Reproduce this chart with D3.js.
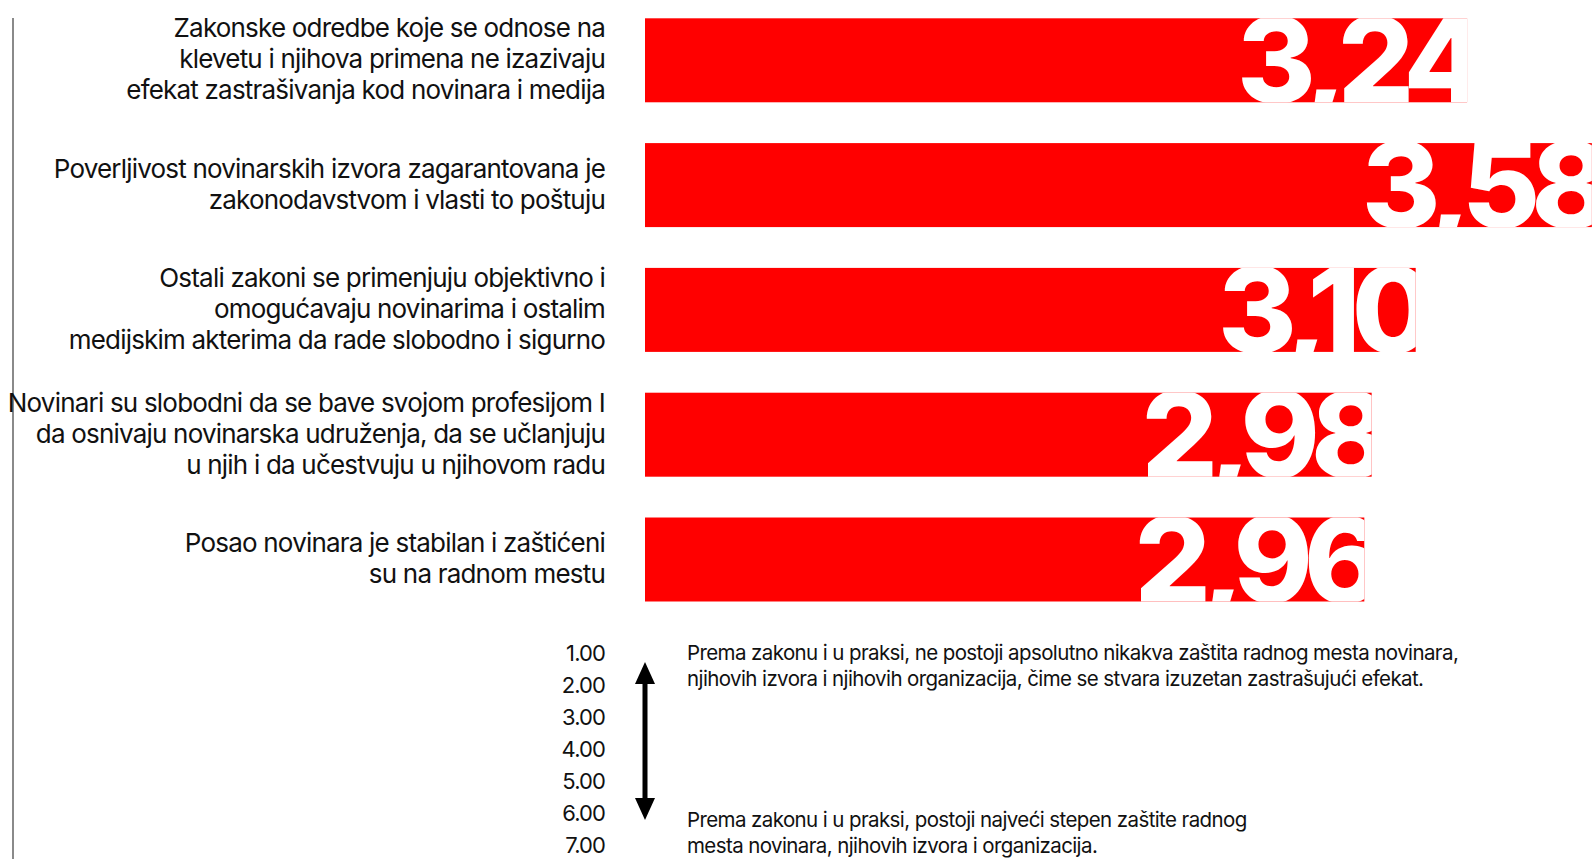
<!DOCTYPE html>
<html>
<head>
<meta charset="utf-8">
<script src="https://cdn.jsdelivr.net/npm/d3@7"></script>
<style>
  body { margin: 0; background: #fff; }
</style>
</head>
<body>
<div id="canvas"></div>
<script>
var w = 1594;
var h = 859;

// data
var categories = [
  ["Zakonske odredbe koje se odnose na", "klevetu i njihova primena ne izazivaju", "efekat zastrašivanja kod novinara i medija"],
  ["Poverljivost novinarskih izvora zagarantovana je", "zakonodavstvom i vlasti to poštuju"],
  ["Ostali zakoni se primenjuju objektivno i", "omogućavaju novinarima i ostalim", "medijskim akterima da rade slobodno i sigurno"],
  ["Novinari su slobodni da se bave svojom profesijom I", "da osnivaju novinarska udruženja, da se učlanjuju", "u njih i da učestvuju u njihovom radu"],
  ["Posao novinara je stabilan i zaštićeni", "su na radnom mestu"]
];
var values = [3.24, 3.58, 3.10, 2.98, 2.96];
var scaleTicks = [1, 2, 3, 4, 5, 6, 7];
var noteTop = ["Prema zakonu i u praksi, ne postoji apsolutno nikakva zaštita radnog mesta novinara,", "njihovih izvora i njihovih organizacija, čime se stvara izuzetan zastrašujući efekat."];
var noteBottom = ["Prema zakonu i u praksi, postoji najveći stepen zaštite radnog", "mesta novinara, njihovih izvora i organizacija."];

var labelX = 605;
var barX = 645;

var svg = d3.select("#canvas").append("svg")
  .attr("width", w)
  .attr("height", h)
  .style("background-color", "white");

var fmt = d3.formatLocale({decimal: ",", thousands: ".", grouping: [3], currency: ["", ""]}).format(".2f");

// scales
var xScale = d3.scaleLinear()
  .domain([1, 7])
  .range([barX, barX + 6 * 367]);

var yScale = d3.scaleBand()
  .domain(d3.range(values.length))
  .range([18.3, 601.5])
  .paddingInner(0.327)
  .paddingOuter(0);

// left rule
svg.append("line")
  .attr("x1", 13).attr("x2", 13)
  .attr("y1", 18).attr("y2", h)
  .attr("stroke", "#8a8a8a")
  .attr("stroke-width", 2);

// clip paths for the value labels
var defs = svg.append("defs");
defs.selectAll("clipPath")
  .data(values)
  .join("clipPath")
  .attr("id", function(d, i) { return "clip" + i; })
  .append("rect")
  .attr("x", barX)
  .attr("y", function(d, i) { return yScale(i); })
  .attr("width", function(d) { return xScale(d) - xScale(1); })
  .attr("height", yScale.bandwidth());

var bars = svg.selectAll("rect.bar")
  .data(values)
  .join("rect")
  .attr("class", "bar")
  .attr("x", barX)
  .attr("y", function(d, i) { return yScale(i); })
  .attr("width", function(d) { return xScale(d) - xScale(1); })
  .attr("height", yScale.bandwidth())
  .attr("fill", "#ff0000");

var valueLabels = svg.selectAll("text.value")
  .data(values)
  .join("text")
  .attr("class", "value")
  .attr("clip-path", function(d, i) { return "url(#clip" + i + ")"; })
  .attr("x", function(d) { return xScale(d) + 10; })
  .attr("y", function(d, i) { return yScale(i) + yScale.bandwidth() + 1; })
  .attr("text-anchor", "end")
  .style("font-family", "Inter")
  .style("font-weight", 800)
  .style("font-size", "120px")
  .style("letter-spacing", "-9px")
  .attr("fill", "white")
  .text(function(d) { return fmt(d); });

// category labels
var catLabels = svg.selectAll("text.cat")
  .data(categories)
  .join("text")
  .attr("class", "cat")
  .attr("text-anchor", "end")
  .style("font-family", "Inter")
  .style("font-size", "26px")
  .style("letter-spacing", "-0.8px")
  .attr("fill", "#111");

catLabels.selectAll("tspan")
  .data(function(d, i) {
    return d.map(function(line, j) {
      return {line: line, y: yScale(i) + yScale.bandwidth() / 2 + (j - (d.length - 1) / 2) * 31 + 8};
    });
  })
  .join("tspan")
  .attr("x", labelX)
  .attr("y", function(d) { return d.y; })
  .text(function(d) { return d.line; });

// scale legend
var legendY = d3.scaleLinear()
  .domain([1, 7])
  .range([653, 845]);

var axis = svg.append("g")
  .attr("transform", "translate(" + (labelX + 3) + ",0)")
  .call(d3.axisLeft(legendY).tickValues(scaleTicks).tickFormat(d3.format(".2f")).tickSize(0).tickPadding(3));
axis.select(".domain").remove();
axis.selectAll("text")
  .style("font-family", "Inter")
  .style("font-size", "22px")
  .style("letter-spacing", "-0.9px")
  .attr("fill", "#111");

// double arrow
var arrowX = barX;
var aTop = legendY(1) + 9;
var aBot = legendY(6) + 7;
svg.append("line")
  .attr("x1", arrowX).attr("x2", arrowX)
  .attr("y1", aTop + 14).attr("y2", aBot - 14)
  .attr("stroke", "black")
  .attr("stroke-width", 5);
svg.append("path")
  .attr("d", "M" + arrowX + "," + aTop + "L" + (arrowX + 10) + "," + (aTop + 22) + "L" + (arrowX - 10) + "," + (aTop + 22) + "Z")
  .attr("fill", "black");
svg.append("path")
  .attr("d", "M" + arrowX + "," + aBot + "L" + (arrowX + 10) + "," + (aBot - 22) + "L" + (arrowX - 10) + "," + (aBot - 22) + "Z")
  .attr("fill", "black");

// notes
function note(lines, y0) {
  svg.append("text")
    .style("font-family", "Inter")
    .style("font-size", "20.5px")
    .style("letter-spacing", "-0.6px")
    .attr("fill", "#111")
    .selectAll("tspan")
    .data(lines)
    .join("tspan")
    .attr("x", 687)
    .attr("y", function(d, i) { return y0 + i * 25.5; })
    .text(function(d) { return d; });
}
note(noteTop, legendY(1) + 7);
note(noteBottom, legendY(6) + 14);
</script>
</body>
</html>
